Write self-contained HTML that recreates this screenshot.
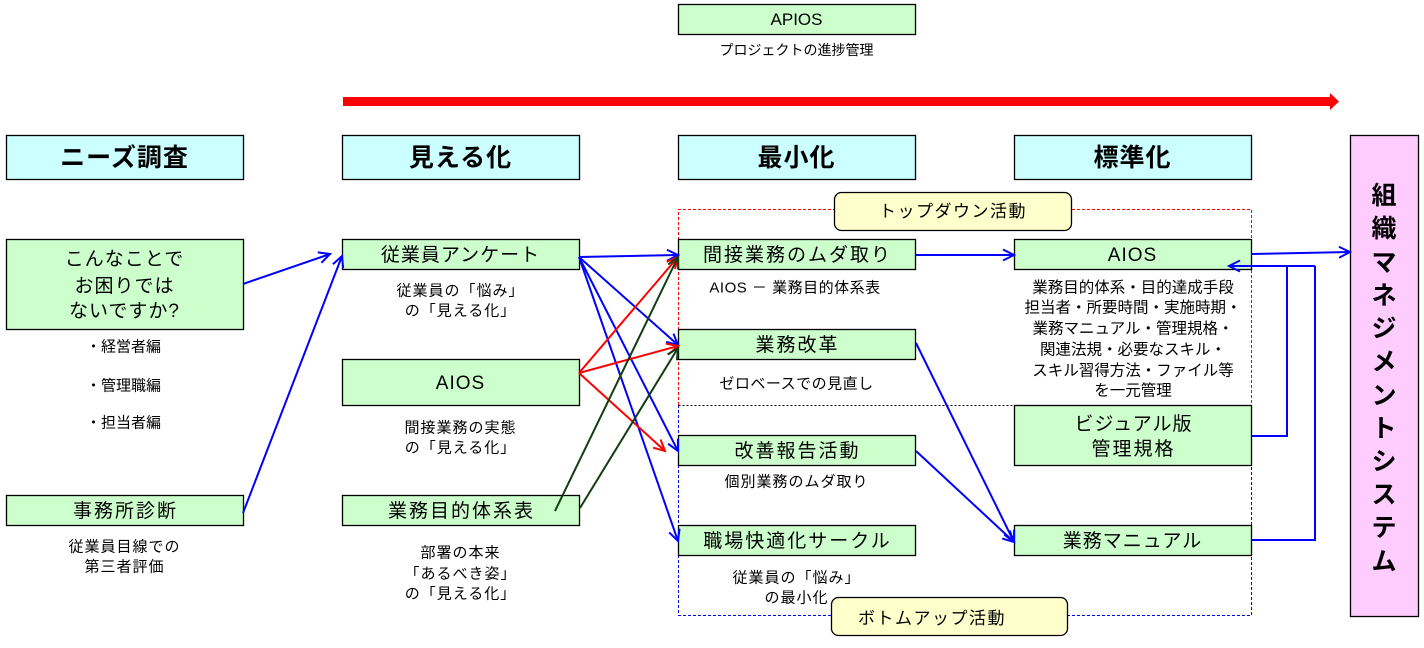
<!DOCTYPE html>
<html>
<head>
<meta charset="utf-8">
<style>
html,body{margin:0;padding:0;background:#fff;}
svg{display:block;}
text{font-family:"Liberation Sans","Noto Sans CJK JP",sans-serif;fill:#000;}
.h{font-size:25px;font-weight:bold;letter-spacing:1px;}
.b{font-size:19px;letter-spacing:1px;}
.s{font-size:15px;letter-spacing:1px;}
.c4{font-size:15.5px;}
.v{font-size:25px;font-weight:bold;}
</style>
</head>
<body>
<svg width="1424" height="648" viewBox="0 0 1424 648" xmlns="http://www.w3.org/2000/svg">
<defs>
<marker id="ab" markerUnits="userSpaceOnUse" markerWidth="16" markerHeight="16" refX="12" refY="7" orient="auto" overflow="visible">
<path d="M1,1.5 L12,7 L1,12.5" fill="none" stroke="#0000ff" stroke-width="2"/>
</marker>
<marker id="ar" markerUnits="userSpaceOnUse" markerWidth="16" markerHeight="16" refX="12" refY="7" orient="auto" overflow="visible">
<path d="M1,1.5 L12,7 L1,12.5" fill="none" stroke="#ff0000" stroke-width="2"/>
</marker>
<marker id="ag" markerUnits="userSpaceOnUse" markerWidth="16" markerHeight="16" refX="12" refY="7" orient="auto" overflow="visible">
<path d="M1,1.5 L12,7 L1,12.5" fill="none" stroke="#103e10" stroke-width="2"/>
</marker>
</defs>

<!-- red progress arrow -->
<polygon points="343,97 1330,97 1330,93 1339,101.5 1330,110 1330,106 343,106" fill="#ff0000"/>

<!-- dashed group frames -->
<path d="M678.5,405 V209.5 H834 M1072,209.5 H1251.5 V405" fill="none" stroke="#ff0000" stroke-width="1" stroke-dasharray="3,2"/>
<path d="M678.5,405 V615.5 H831 M1067,615.5 H1251.5 V405" fill="none" stroke="#0000ff" stroke-width="1" stroke-dasharray="3,2"/>
<path d="M678.5,405.5 H1014" fill="none" stroke="#000" stroke-width="1" stroke-dasharray="2,2"/>

<!-- sub-label text that sits under bottom-up box -->
<text class="s" x="796.5" y="582.5" text-anchor="middle">従業員の「悩み」</text>
<text class="s" x="796.5" y="602.5" text-anchor="middle">の最小化</text>

<!-- boxes -->
<g stroke="#000" stroke-width="1.3">
<rect x="678.5" y="4.5" width="237" height="30" fill="#ccffcc"/>
<rect x="6.5" y="135.5" width="237" height="44" fill="#ccffff"/>
<rect x="342.5" y="135.5" width="237" height="44" fill="#ccffff"/>
<rect x="678.5" y="135.5" width="237" height="44" fill="#ccffff"/>
<rect x="1014.5" y="135.5" width="237" height="44" fill="#ccffff"/>
<rect x="1350.5" y="135.5" width="68" height="481" fill="#ffccff"/>

<rect x="6.5" y="239.5" width="237" height="90" fill="#ccffcc"/>
<rect x="6.5" y="495.5" width="237" height="30" fill="#ccffcc"/>

<rect x="342.5" y="239.5" width="237" height="30" fill="#ccffcc"/>
<rect x="342.5" y="359.5" width="237" height="46" fill="#ccffcc"/>
<rect x="342.5" y="495.5" width="237" height="30" fill="#ccffcc"/>

<rect x="678.5" y="239.5" width="237" height="30" fill="#ccffcc"/>
<rect x="678.5" y="329.5" width="237" height="30" fill="#ccffcc"/>
<rect x="678.5" y="435.5" width="237" height="30" fill="#ccffcc"/>
<rect x="678.5" y="525.5" width="237" height="30" fill="#ccffcc"/>

<rect x="1014.5" y="239.5" width="237" height="30" fill="#ccffcc"/>
<rect x="1014.5" y="405.5" width="237" height="60" fill="#ccffcc"/>
<rect x="1014.5" y="525.5" width="237" height="30" fill="#ccffcc"/>

<rect x="834.5" y="192.5" width="237" height="38" rx="7" ry="7" fill="#ffffcc"/>
<rect x="831.5" y="597.5" width="236" height="38" rx="7" ry="7" fill="#ffffcc"/>
</g>

<!-- connectors -->
<g fill="none" stroke="#0000ff" stroke-width="2">
<path d="M243,284 L330,254" marker-end="url(#ab)"/>
<path d="M243,513 L342,256" marker-end="url(#ab)"/>
<path d="M579,257 L678,255" marker-end="url(#ab)"/>
<path d="M579,257 L678,345" marker-end="url(#ab)"/>
<path d="M579,257 L678,451" marker-end="url(#ab)"/>
<path d="M579,257 L678,541" marker-end="url(#ab)"/>
<path d="M916,255 L1014,255" marker-end="url(#ab)"/>
<path d="M916,343 L1014,542" marker-end="url(#ab)"/>
<path d="M916,451 L1014,542" marker-end="url(#ab)"/>
<path d="M1251,254 L1350,252" marker-end="url(#ab)"/>
<path d="M1251,436 H1287 V266"/>
<path d="M1251,540 H1315 V266"/>
<path d="M1315,266 H1229" marker-end="url(#ab)"/>
</g>
<g fill="none" stroke="#ff0000" stroke-width="2">
<path d="M579,373 L678,257" marker-end="url(#ar)"/>
<path d="M579,373 L678,346" marker-end="url(#ar)"/>
<path d="M579,373 L665,451" marker-end="url(#ar)"/>
</g>
<g fill="none" stroke="#103e10" stroke-width="2">
<path d="M555,511 L678,257" marker-end="url(#ag)"/>
<path d="M580,508 L678,348" marker-end="url(#ag)"/>
</g>

<!-- top -->
<text x="796.5" y="25" text-anchor="middle" style="font-size:17px;">APIOS</text>
<text x="796.5" y="55" text-anchor="middle" style="font-size:14px;">プロジェクトの進捗管理</text>

<!-- headers -->
<text class="h" x="124.5" y="166" text-anchor="middle">ニーズ調査</text>
<text class="h" x="460.5" y="166" text-anchor="middle">見える化</text>
<text class="h" x="796.5" y="166" text-anchor="middle">最小化</text>
<text class="h" x="1132.5" y="166" text-anchor="middle">標準化</text>

<!-- column 1 -->
<text class="b" x="124.5" y="265" text-anchor="middle">こんなことで</text>
<text class="b" x="124.5" y="292" text-anchor="middle">お困りでは</text>
<text class="b" x="124.5" y="317" text-anchor="middle">ないですか?</text>
<text class="s" x="86" y="351.5" style="letter-spacing:0">・経営者編</text>
<text class="s" x="86" y="390.5" style="letter-spacing:0">・管理職編</text>
<text class="s" x="86" y="427.5" style="letter-spacing:0">・担当者編</text>
<text class="b" x="125.5" y="517" text-anchor="middle" style="letter-spacing:2px">事務所診断</text>
<text class="s" x="124.5" y="551.5" text-anchor="middle">従業員目線での</text>
<text class="s" x="124.5" y="571.5" text-anchor="middle">第三者評価</text>

<!-- column 2 -->
<text class="b" x="460.5" y="261" text-anchor="middle">従業員アンケート</text>
<text class="s" x="460.5" y="295.5" text-anchor="middle">従業員の「悩み」</text>
<text class="s" x="460.5" y="315.5" text-anchor="middle">の「見える化」</text>
<text class="b" x="460.5" y="389" text-anchor="middle">AIOS</text>
<text class="s" x="460.5" y="432.5" text-anchor="middle">間接業務の実態</text>
<text class="s" x="460.5" y="452.5" text-anchor="middle">の「見える化」</text>
<text class="b" x="461.5" y="517" text-anchor="middle" style="letter-spacing:2px">業務目的体系表</text>
<text class="s" x="460.5" y="557.5" text-anchor="middle">部署の本来</text>
<text class="s" x="460.5" y="578.5" text-anchor="middle">「あるべき姿」</text>
<text class="s" x="460.5" y="598.5" text-anchor="middle">の「見える化」</text>

<!-- column 3 -->
<text x="953" y="217" text-anchor="middle" style="font-size:17px;letter-spacing:1.5px">トップダウン活動</text>
<text class="b" x="797.5" y="261" text-anchor="middle" style="letter-spacing:2px">間接業務のムダ取り</text>
<text class="s" x="795" y="292.5" text-anchor="middle" style="letter-spacing:0.5px">AIOS － 業務目的体系表</text>
<text class="b" x="797.5" y="351" text-anchor="middle" style="letter-spacing:2px">業務改革</text>
<text class="s" x="796.5" y="388.5" text-anchor="middle" style="letter-spacing:0.5px">ゼロベースでの見直し</text>
<text class="b" x="797.5" y="457" text-anchor="middle" style="letter-spacing:2px">改善報告活動</text>
<text class="s" x="796.5" y="486.5" text-anchor="middle">個別業務のムダ取り</text>
<text class="b" x="797.5" y="547" text-anchor="middle" style="letter-spacing:2px">職場快適化サークル</text>
<text x="932" y="624" text-anchor="middle" style="font-size:17px;letter-spacing:1.5px">ボトムアップ活動</text>

<!-- column 4 -->
<text class="b" x="1132.5" y="261" text-anchor="middle">AIOS</text>
<text class="c4" x="1133" y="292.5" text-anchor="middle">業務目的体系・目的達成手段</text>
<text class="c4" x="1133" y="312.5" text-anchor="middle">担当者・所要時間・実施時期・</text>
<text class="c4" x="1133" y="333.5" text-anchor="middle">業務マニュアル・管理規格・</text>
<text class="c4" x="1133" y="354.5" text-anchor="middle">関連法規・必要なスキル・</text>
<text class="c4" x="1133" y="375.5" text-anchor="middle">スキル習得方法・ファイル等</text>
<text class="c4" x="1133" y="395.5" text-anchor="middle">を一元管理</text>
<text class="b" x="1133.5" y="430" text-anchor="middle">ビジュアル版</text>
<text class="b" x="1133.5" y="455" text-anchor="middle" style="letter-spacing:2px">管理規格</text>
<text class="b" x="1132.5" y="547" text-anchor="middle">業務マニュアル</text>

<!-- vertical title -->
<g class="v" text-anchor="middle">
<text class="v" x="1384" y="204">組</text>
<text class="v" x="1384" y="237">織</text>
<text class="v" x="1384" y="271">マ</text>
<text class="v" x="1384" y="304">ネ</text>
<text class="v" x="1384" y="337">ジ</text>
<text class="v" x="1384" y="370">メ</text>
<text class="v" x="1384" y="404">ン</text>
<text class="v" x="1384" y="437">ト</text>
<text class="v" x="1384" y="470">シ</text>
<text class="v" x="1384" y="503">ス</text>
<text class="v" x="1384" y="536">テ</text>
<text class="v" x="1384" y="570">ム</text>
</g>
</svg>
</body>
</html>
